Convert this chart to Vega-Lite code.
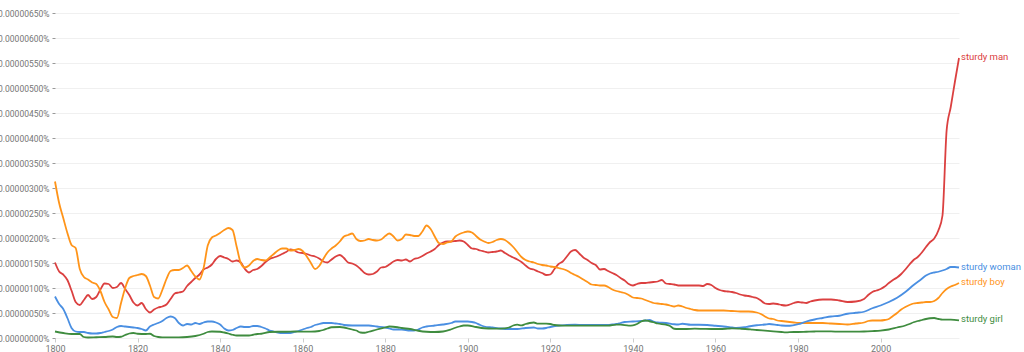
{
"$schema": "https://vega.github.io/schema/vega-lite/v6.json",
"width": 904, "height": 325,
"autosize": {"type": "none"},
"padding": {"left": 55, "top": 13, "right": 65, "bottom": 14},
"background": "white",
"config": {"view": {"stroke": null}, "font": "Roboto"},
"data": {"values": [
{"t":"sturdy man","year":1800,"v":151},{"t":"sturdy man","year":1801,"v":133},{"t":"sturdy man","year":1802,"v":127},{"t":"sturdy man","year":1803,"v":116},{"t":"sturdy man","year":1804,"v":95},{"t":"sturdy man","year":1805,"v":72},{"t":"sturdy man","year":1806,"v":66},{"t":"sturdy man","year":1807,"v":76},{"t":"sturdy man","year":1808,"v":86},{"t":"sturdy man","year":1809,"v":78},{"t":"sturdy man","year":1810,"v":82},{"t":"sturdy man","year":1811,"v":97},{"t":"sturdy man","year":1812,"v":109},{"t":"sturdy man","year":1813,"v":108},{"t":"sturdy man","year":1814,"v":100},{"t":"sturdy man","year":1815,"v":102},{"t":"sturdy man","year":1816,"v":110},{"t":"sturdy man","year":1817,"v":98},{"t":"sturdy man","year":1818,"v":86},{"t":"sturdy man","year":1819,"v":71},{"t":"sturdy man","year":1820,"v":65},{"t":"sturdy man","year":1821,"v":70},{"t":"sturdy man","year":1822,"v":58},{"t":"sturdy man","year":1823,"v":51},{"t":"sturdy man","year":1824,"v":57},{"t":"sturdy man","year":1825,"v":61},{"t":"sturdy man","year":1826,"v":63},{"t":"sturdy man","year":1827,"v":67},{"t":"sturdy man","year":1828,"v":78},{"t":"sturdy man","year":1829,"v":89},{"t":"sturdy man","year":1830,"v":91},{"t":"sturdy man","year":1831,"v":93},{"t":"sturdy man","year":1832,"v":104},{"t":"sturdy man","year":1833,"v":112},{"t":"sturdy man","year":1834,"v":120},{"t":"sturdy man","year":1835,"v":127},{"t":"sturdy man","year":1836,"v":137},{"t":"sturdy man","year":1837,"v":141},{"t":"sturdy man","year":1838,"v":147},{"t":"sturdy man","year":1839,"v":158},{"t":"sturdy man","year":1840,"v":164},{"t":"sturdy man","year":1841,"v":161},{"t":"sturdy man","year":1842,"v":158},{"t":"sturdy man","year":1843,"v":153},{"t":"sturdy man","year":1844,"v":155},{"t":"sturdy man","year":1845,"v":151},{"t":"sturdy man","year":1846,"v":138},{"t":"sturdy man","year":1847,"v":131},{"t":"sturdy man","year":1848,"v":136},{"t":"sturdy man","year":1849,"v":138},{"t":"sturdy man","year":1850,"v":144},{"t":"sturdy man","year":1851,"v":152},{"t":"sturdy man","year":1852,"v":158},{"t":"sturdy man","year":1853,"v":161},{"t":"sturdy man","year":1854,"v":164},{"t":"sturdy man","year":1855,"v":168},{"t":"sturdy man","year":1856,"v":172},{"t":"sturdy man","year":1857,"v":177},{"t":"sturdy man","year":1858,"v":175},{"t":"sturdy man","year":1859,"v":171},{"t":"sturdy man","year":1860,"v":170},{"t":"sturdy man","year":1861,"v":168},{"t":"sturdy man","year":1862,"v":165},{"t":"sturdy man","year":1863,"v":163},{"t":"sturdy man","year":1864,"v":159},{"t":"sturdy man","year":1865,"v":153},{"t":"sturdy man","year":1866,"v":151},{"t":"sturdy man","year":1867,"v":157},{"t":"sturdy man","year":1868,"v":163},{"t":"sturdy man","year":1869,"v":166},{"t":"sturdy man","year":1870,"v":160},{"t":"sturdy man","year":1871,"v":151},{"t":"sturdy man","year":1872,"v":149},{"t":"sturdy man","year":1873,"v":145},{"t":"sturdy man","year":1874,"v":138},{"t":"sturdy man","year":1875,"v":130},{"t":"sturdy man","year":1876,"v":127},{"t":"sturdy man","year":1877,"v":128},{"t":"sturdy man","year":1878,"v":133},{"t":"sturdy man","year":1879,"v":141},{"t":"sturdy man","year":1880,"v":142},{"t":"sturdy man","year":1881,"v":147},{"t":"sturdy man","year":1882,"v":153},{"t":"sturdy man","year":1883,"v":156},{"t":"sturdy man","year":1884,"v":155},{"t":"sturdy man","year":1885,"v":157},{"t":"sturdy man","year":1886,"v":153},{"t":"sturdy man","year":1887,"v":158},{"t":"sturdy man","year":1888,"v":160},{"t":"sturdy man","year":1889,"v":164},{"t":"sturdy man","year":1890,"v":169},{"t":"sturdy man","year":1891,"v":173},{"t":"sturdy man","year":1892,"v":178},{"t":"sturdy man","year":1893,"v":186},{"t":"sturdy man","year":1894,"v":191},{"t":"sturdy man","year":1895,"v":193},{"t":"sturdy man","year":1896,"v":193},{"t":"sturdy man","year":1897,"v":194},{"t":"sturdy man","year":1898,"v":195},{"t":"sturdy man","year":1899,"v":193},{"t":"sturdy man","year":1900,"v":186},{"t":"sturdy man","year":1901,"v":179},{"t":"sturdy man","year":1902,"v":178},{"t":"sturdy man","year":1903,"v":175},{"t":"sturdy man","year":1904,"v":173},{"t":"sturdy man","year":1905,"v":171},{"t":"sturdy man","year":1906,"v":172},{"t":"sturdy man","year":1907,"v":173},{"t":"sturdy man","year":1908,"v":175},{"t":"sturdy man","year":1909,"v":170},{"t":"sturdy man","year":1910,"v":165},{"t":"sturdy man","year":1911,"v":161},{"t":"sturdy man","year":1912,"v":157},{"t":"sturdy man","year":1913,"v":152},{"t":"sturdy man","year":1914,"v":145},{"t":"sturdy man","year":1915,"v":139},{"t":"sturdy man","year":1916,"v":137},{"t":"sturdy man","year":1917,"v":133},{"t":"sturdy man","year":1918,"v":130},{"t":"sturdy man","year":1919,"v":126},{"t":"sturdy man","year":1920,"v":127},{"t":"sturdy man","year":1921,"v":138},{"t":"sturdy man","year":1922,"v":148},{"t":"sturdy man","year":1923,"v":153},{"t":"sturdy man","year":1924,"v":163},{"t":"sturdy man","year":1925,"v":173},{"t":"sturdy man","year":1926,"v":176},{"t":"sturdy man","year":1927,"v":169},{"t":"sturdy man","year":1928,"v":161},{"t":"sturdy man","year":1929,"v":156},{"t":"sturdy man","year":1930,"v":150},{"t":"sturdy man","year":1931,"v":146},{"t":"sturdy man","year":1932,"v":137},{"t":"sturdy man","year":1933,"v":138},{"t":"sturdy man","year":1934,"v":134},{"t":"sturdy man","year":1935,"v":130},{"t":"sturdy man","year":1936,"v":126},{"t":"sturdy man","year":1937,"v":120},{"t":"sturdy man","year":1938,"v":115},{"t":"sturdy man","year":1939,"v":108},{"t":"sturdy man","year":1940,"v":105},{"t":"sturdy man","year":1941,"v":108},{"t":"sturdy man","year":1942,"v":110},{"t":"sturdy man","year":1943,"v":110},{"t":"sturdy man","year":1944,"v":111},{"t":"sturdy man","year":1945,"v":112},{"t":"sturdy man","year":1946,"v":113},{"t":"sturdy man","year":1947,"v":116},{"t":"sturdy man","year":1948,"v":109},{"t":"sturdy man","year":1949,"v":108},{"t":"sturdy man","year":1950,"v":107},{"t":"sturdy man","year":1951,"v":105},{"t":"sturdy man","year":1952,"v":105},{"t":"sturdy man","year":1953,"v":105},{"t":"sturdy man","year":1954,"v":105},{"t":"sturdy man","year":1955,"v":105},{"t":"sturdy man","year":1956,"v":105},{"t":"sturdy man","year":1957,"v":104},{"t":"sturdy man","year":1958,"v":108},{"t":"sturdy man","year":1959,"v":106},{"t":"sturdy man","year":1960,"v":100},{"t":"sturdy man","year":1961,"v":96},{"t":"sturdy man","year":1962,"v":94},{"t":"sturdy man","year":1963,"v":93},{"t":"sturdy man","year":1964,"v":92},{"t":"sturdy man","year":1965,"v":90},{"t":"sturdy man","year":1966,"v":87},{"t":"sturdy man","year":1967,"v":85},{"t":"sturdy man","year":1968,"v":84},{"t":"sturdy man","year":1969,"v":82},{"t":"sturdy man","year":1970,"v":80},{"t":"sturdy man","year":1971,"v":75},{"t":"sturdy man","year":1972,"v":69},{"t":"sturdy man","year":1973,"v":68},{"t":"sturdy man","year":1974,"v":69},{"t":"sturdy man","year":1975,"v":68},{"t":"sturdy man","year":1976,"v":66},{"t":"sturdy man","year":1977,"v":65},{"t":"sturdy man","year":1978,"v":67},{"t":"sturdy man","year":1979,"v":70},{"t":"sturdy man","year":1980,"v":72},{"t":"sturdy man","year":1981,"v":71},{"t":"sturdy man","year":1982,"v":70},{"t":"sturdy man","year":1983,"v":73},{"t":"sturdy man","year":1984,"v":75},{"t":"sturdy man","year":1986,"v":77},{"t":"sturdy man","year":1988,"v":77},{"t":"sturdy man","year":1990,"v":75},{"t":"sturdy man","year":1992,"v":72},{"t":"sturdy man","year":1994,"v":73},{"t":"sturdy man","year":1996,"v":78},{"t":"sturdy man","year":1997,"v":86},{"t":"sturdy man","year":1998,"v":92},{"t":"sturdy man","year":1999,"v":95},{"t":"sturdy man","year":2000,"v":98},{"t":"sturdy man","year":2001,"v":103},{"t":"sturdy man","year":2002,"v":110},{"t":"sturdy man","year":2003,"v":116},{"t":"sturdy man","year":2004,"v":121},{"t":"sturdy man","year":2005,"v":128},{"t":"sturdy man","year":2006,"v":137},{"t":"sturdy man","year":2007,"v":147},{"t":"sturdy man","year":2008,"v":156},{"t":"sturdy man","year":2009,"v":162},{"t":"sturdy man","year":2010,"v":171},{"t":"sturdy man","year":2011,"v":182},{"t":"sturdy man","year":2012,"v":192},{"t":"sturdy man","year":2013,"v":199},{"t":"sturdy man","year":2014,"v":215},{"t":"sturdy man","year":2015,"v":245},{"t":"sturdy man","year":2016,"v":415},{"t":"sturdy man","year":2017,"v":462},{"t":"sturdy man","year":2018,"v":512},{"t":"sturdy man","year":2019,"v":560},
{"t":"sturdy boy","year":1800,"v":313},{"t":"sturdy boy","year":1801,"v":270},{"t":"sturdy boy","year":1802,"v":240},{"t":"sturdy boy","year":1803,"v":210},{"t":"sturdy boy","year":1804,"v":186},{"t":"sturdy boy","year":1805,"v":180},{"t":"sturdy boy","year":1806,"v":138},{"t":"sturdy boy","year":1807,"v":122},{"t":"sturdy boy","year":1808,"v":117},{"t":"sturdy boy","year":1809,"v":111},{"t":"sturdy boy","year":1810,"v":108},{"t":"sturdy boy","year":1811,"v":94},{"t":"sturdy boy","year":1812,"v":72},{"t":"sturdy boy","year":1813,"v":57},{"t":"sturdy boy","year":1814,"v":42},{"t":"sturdy boy","year":1815,"v":40},{"t":"sturdy boy","year":1816,"v":70},{"t":"sturdy boy","year":1817,"v":100},{"t":"sturdy boy","year":1818,"v":120},{"t":"sturdy boy","year":1819,"v":124},{"t":"sturdy boy","year":1820,"v":126},{"t":"sturdy boy","year":1821,"v":128},{"t":"sturdy boy","year":1822,"v":124},{"t":"sturdy boy","year":1823,"v":105},{"t":"sturdy boy","year":1824,"v":82},{"t":"sturdy boy","year":1825,"v":79},{"t":"sturdy boy","year":1826,"v":96},{"t":"sturdy boy","year":1827,"v":118},{"t":"sturdy boy","year":1828,"v":134},{"t":"sturdy boy","year":1829,"v":136},{"t":"sturdy boy","year":1830,"v":136},{"t":"sturdy boy","year":1831,"v":140},{"t":"sturdy boy","year":1832,"v":145},{"t":"sturdy boy","year":1833,"v":134},{"t":"sturdy boy","year":1834,"v":123},{"t":"sturdy boy","year":1835,"v":117},{"t":"sturdy boy","year":1836,"v":140},{"t":"sturdy boy","year":1837,"v":185},{"t":"sturdy boy","year":1838,"v":201},{"t":"sturdy boy","year":1839,"v":205},{"t":"sturdy boy","year":1840,"v":210},{"t":"sturdy boy","year":1841,"v":216},{"t":"sturdy boy","year":1842,"v":220},{"t":"sturdy boy","year":1843,"v":216},{"t":"sturdy boy","year":1844,"v":183},{"t":"sturdy boy","year":1845,"v":150},{"t":"sturdy boy","year":1846,"v":141},{"t":"sturdy boy","year":1847,"v":145},{"t":"sturdy boy","year":1848,"v":154},{"t":"sturdy boy","year":1849,"v":158},{"t":"sturdy boy","year":1850,"v":156},{"t":"sturdy boy","year":1851,"v":155},{"t":"sturdy boy","year":1852,"v":161},{"t":"sturdy boy","year":1853,"v":168},{"t":"sturdy boy","year":1854,"v":175},{"t":"sturdy boy","year":1855,"v":179},{"t":"sturdy boy","year":1856,"v":179},{"t":"sturdy boy","year":1857,"v":175},{"t":"sturdy boy","year":1858,"v":176},{"t":"sturdy boy","year":1859,"v":178},{"t":"sturdy boy","year":1860,"v":174},{"t":"sturdy boy","year":1861,"v":163},{"t":"sturdy boy","year":1862,"v":150},{"t":"sturdy boy","year":1863,"v":138},{"t":"sturdy boy","year":1864,"v":144},{"t":"sturdy boy","year":1865,"v":158},{"t":"sturdy boy","year":1866,"v":171},{"t":"sturdy boy","year":1867,"v":179},{"t":"sturdy boy","year":1868,"v":185},{"t":"sturdy boy","year":1869,"v":193},{"t":"sturdy boy","year":1870,"v":203},{"t":"sturdy boy","year":1871,"v":206},{"t":"sturdy boy","year":1872,"v":209},{"t":"sturdy boy","year":1873,"v":198},{"t":"sturdy boy","year":1874,"v":194},{"t":"sturdy boy","year":1875,"v":195},{"t":"sturdy boy","year":1876,"v":198},{"t":"sturdy boy","year":1877,"v":196},{"t":"sturdy boy","year":1878,"v":195},{"t":"sturdy boy","year":1879,"v":197},{"t":"sturdy boy","year":1880,"v":204},{"t":"sturdy boy","year":1881,"v":209},{"t":"sturdy boy","year":1882,"v":203},{"t":"sturdy boy","year":1883,"v":195},{"t":"sturdy boy","year":1884,"v":198},{"t":"sturdy boy","year":1885,"v":207},{"t":"sturdy boy","year":1886,"v":206},{"t":"sturdy boy","year":1887,"v":204},{"t":"sturdy boy","year":1888,"v":204},{"t":"sturdy boy","year":1889,"v":213},{"t":"sturdy boy","year":1890,"v":225},{"t":"sturdy boy","year":1891,"v":218},{"t":"sturdy boy","year":1892,"v":203},{"t":"sturdy boy","year":1893,"v":190},{"t":"sturdy boy","year":1894,"v":188},{"t":"sturdy boy","year":1895,"v":191},{"t":"sturdy boy","year":1896,"v":193},{"t":"sturdy boy","year":1897,"v":203},{"t":"sturdy boy","year":1898,"v":208},{"t":"sturdy boy","year":1899,"v":211},{"t":"sturdy boy","year":1900,"v":213},{"t":"sturdy boy","year":1901,"v":211},{"t":"sturdy boy","year":1902,"v":204},{"t":"sturdy boy","year":1903,"v":197},{"t":"sturdy boy","year":1904,"v":193},{"t":"sturdy boy","year":1905,"v":190},{"t":"sturdy boy","year":1906,"v":192},{"t":"sturdy boy","year":1907,"v":196},{"t":"sturdy boy","year":1908,"v":198},{"t":"sturdy boy","year":1909,"v":196},{"t":"sturdy boy","year":1910,"v":190},{"t":"sturdy boy","year":1911,"v":182},{"t":"sturdy boy","year":1912,"v":172},{"t":"sturdy boy","year":1913,"v":162},{"t":"sturdy boy","year":1914,"v":156},{"t":"sturdy boy","year":1915,"v":153},{"t":"sturdy boy","year":1916,"v":151},{"t":"sturdy boy","year":1917,"v":148},{"t":"sturdy boy","year":1918,"v":146},{"t":"sturdy boy","year":1919,"v":145},{"t":"sturdy boy","year":1920,"v":143},{"t":"sturdy boy","year":1921,"v":142},{"t":"sturdy boy","year":1922,"v":140},{"t":"sturdy boy","year":1923,"v":138},{"t":"sturdy boy","year":1924,"v":135},{"t":"sturdy boy","year":1925,"v":130},{"t":"sturdy boy","year":1926,"v":126},{"t":"sturdy boy","year":1927,"v":122},{"t":"sturdy boy","year":1928,"v":117},{"t":"sturdy boy","year":1929,"v":112},{"t":"sturdy boy","year":1930,"v":107},{"t":"sturdy boy","year":1931,"v":106},{"t":"sturdy boy","year":1932,"v":105},{"t":"sturdy boy","year":1933,"v":105},{"t":"sturdy boy","year":1934,"v":102},{"t":"sturdy boy","year":1935,"v":97},{"t":"sturdy boy","year":1936,"v":94},{"t":"sturdy boy","year":1937,"v":92},{"t":"sturdy boy","year":1938,"v":90},{"t":"sturdy boy","year":1939,"v":86},{"t":"sturdy boy","year":1940,"v":81},{"t":"sturdy boy","year":1941,"v":80},{"t":"sturdy boy","year":1942,"v":79},{"t":"sturdy boy","year":1943,"v":76},{"t":"sturdy boy","year":1944,"v":73},{"t":"sturdy boy","year":1945,"v":70},{"t":"sturdy boy","year":1946,"v":69},{"t":"sturdy boy","year":1947,"v":68},{"t":"sturdy boy","year":1948,"v":67},{"t":"sturdy boy","year":1949,"v":65},{"t":"sturdy boy","year":1950,"v":63},{"t":"sturdy boy","year":1951,"v":65},{"t":"sturdy boy","year":1952,"v":63},{"t":"sturdy boy","year":1953,"v":60},{"t":"sturdy boy","year":1954,"v":58},{"t":"sturdy boy","year":1955,"v":56},{"t":"sturdy boy","year":1956,"v":55},{"t":"sturdy boy","year":1958,"v":55},{"t":"sturdy boy","year":1960,"v":55},{"t":"sturdy boy","year":1962,"v":55},{"t":"sturdy boy","year":1964,"v":54},{"t":"sturdy boy","year":1966,"v":53},{"t":"sturdy boy","year":1968,"v":53},{"t":"sturdy boy","year":1970,"v":51},{"t":"sturdy boy","year":1971,"v":48},{"t":"sturdy boy","year":1972,"v":43},{"t":"sturdy boy","year":1973,"v":39},{"t":"sturdy boy","year":1974,"v":38},{"t":"sturdy boy","year":1975,"v":35},{"t":"sturdy boy","year":1976,"v":34},{"t":"sturdy boy","year":1977,"v":33},{"t":"sturdy boy","year":1978,"v":32},{"t":"sturdy boy","year":1979,"v":31},{"t":"sturdy boy","year":1980,"v":30},{"t":"sturdy boy","year":1982,"v":30},{"t":"sturdy boy","year":1984,"v":30},{"t":"sturdy boy","year":1986,"v":30},{"t":"sturdy boy","year":1988,"v":29},{"t":"sturdy boy","year":1990,"v":28},{"t":"sturdy boy","year":1992,"v":27},{"t":"sturdy boy","year":1994,"v":29},{"t":"sturdy boy","year":1996,"v":31},{"t":"sturdy boy","year":1997,"v":34},{"t":"sturdy boy","year":1998,"v":35},{"t":"sturdy boy","year":2000,"v":35},{"t":"sturdy boy","year":2001,"v":36},{"t":"sturdy boy","year":2002,"v":38},{"t":"sturdy boy","year":2003,"v":44},{"t":"sturdy boy","year":2004,"v":50},{"t":"sturdy boy","year":2005,"v":57},{"t":"sturdy boy","year":2006,"v":62},{"t":"sturdy boy","year":2007,"v":66},{"t":"sturdy boy","year":2008,"v":69},{"t":"sturdy boy","year":2009,"v":70},{"t":"sturdy boy","year":2010,"v":71},{"t":"sturdy boy","year":2011,"v":72},{"t":"sturdy boy","year":2012,"v":72},{"t":"sturdy boy","year":2013,"v":74},{"t":"sturdy boy","year":2014,"v":80},{"t":"sturdy boy","year":2015,"v":90},{"t":"sturdy boy","year":2016,"v":98},{"t":"sturdy boy","year":2017,"v":103},{"t":"sturdy boy","year":2018,"v":106},{"t":"sturdy boy","year":2019,"v":110},
{"t":"sturdy woman","year":1800,"v":83},{"t":"sturdy woman","year":1801,"v":68},{"t":"sturdy woman","year":1802,"v":58},{"t":"sturdy woman","year":1803,"v":40},{"t":"sturdy woman","year":1804,"v":20},{"t":"sturdy woman","year":1805,"v":13},{"t":"sturdy woman","year":1806,"v":12},{"t":"sturdy woman","year":1807,"v":12},{"t":"sturdy woman","year":1808,"v":10},{"t":"sturdy woman","year":1809,"v":9},{"t":"sturdy woman","year":1810,"v":9},{"t":"sturdy woman","year":1811,"v":10},{"t":"sturdy woman","year":1812,"v":12},{"t":"sturdy woman","year":1813,"v":14},{"t":"sturdy woman","year":1814,"v":17},{"t":"sturdy woman","year":1815,"v":22},{"t":"sturdy woman","year":1816,"v":24},{"t":"sturdy woman","year":1817,"v":23},{"t":"sturdy woman","year":1818,"v":22},{"t":"sturdy woman","year":1819,"v":21},{"t":"sturdy woman","year":1820,"v":20},{"t":"sturdy woman","year":1821,"v":18},{"t":"sturdy woman","year":1822,"v":15},{"t":"sturdy woman","year":1823,"v":23},{"t":"sturdy woman","year":1824,"v":27},{"t":"sturdy woman","year":1825,"v":30},{"t":"sturdy woman","year":1826,"v":34},{"t":"sturdy woman","year":1827,"v":40},{"t":"sturdy woman","year":1828,"v":43},{"t":"sturdy woman","year":1829,"v":40},{"t":"sturdy woman","year":1830,"v":30},{"t":"sturdy woman","year":1831,"v":25},{"t":"sturdy woman","year":1832,"v":28},{"t":"sturdy woman","year":1833,"v":27},{"t":"sturdy woman","year":1834,"v":30},{"t":"sturdy woman","year":1835,"v":28},{"t":"sturdy woman","year":1836,"v":31},{"t":"sturdy woman","year":1837,"v":33},{"t":"sturdy woman","year":1838,"v":33},{"t":"sturdy woman","year":1839,"v":31},{"t":"sturdy woman","year":1840,"v":27},{"t":"sturdy woman","year":1841,"v":19},{"t":"sturdy woman","year":1842,"v":15},{"t":"sturdy woman","year":1843,"v":16},{"t":"sturdy woman","year":1844,"v":20},{"t":"sturdy woman","year":1845,"v":23},{"t":"sturdy woman","year":1846,"v":22},{"t":"sturdy woman","year":1847,"v":22},{"t":"sturdy woman","year":1848,"v":24},{"t":"sturdy woman","year":1849,"v":24},{"t":"sturdy woman","year":1850,"v":22},{"t":"sturdy woman","year":1851,"v":19},{"t":"sturdy woman","year":1852,"v":15},{"t":"sturdy woman","year":1853,"v":13},{"t":"sturdy woman","year":1854,"v":11},{"t":"sturdy woman","year":1855,"v":10},{"t":"sturdy woman","year":1857,"v":10},{"t":"sturdy woman","year":1858,"v":12},{"t":"sturdy woman","year":1859,"v":14},{"t":"sturdy woman","year":1860,"v":17},{"t":"sturdy woman","year":1861,"v":20},{"t":"sturdy woman","year":1862,"v":22},{"t":"sturdy woman","year":1863,"v":26},{"t":"sturdy woman","year":1864,"v":28},{"t":"sturdy woman","year":1865,"v":30},{"t":"sturdy woman","year":1867,"v":30},{"t":"sturdy woman","year":1868,"v":29},{"t":"sturdy woman","year":1869,"v":28},{"t":"sturdy woman","year":1870,"v":26},{"t":"sturdy woman","year":1872,"v":25},{"t":"sturdy woman","year":1874,"v":25},{"t":"sturdy woman","year":1876,"v":25},{"t":"sturdy woman","year":1878,"v":23},{"t":"sturdy woman","year":1880,"v":21},{"t":"sturdy woman","year":1881,"v":19},{"t":"sturdy woman","year":1882,"v":17},{"t":"sturdy woman","year":1884,"v":17},{"t":"sturdy woman","year":1886,"v":15},{"t":"sturdy woman","year":1887,"v":15},{"t":"sturdy woman","year":1888,"v":17},{"t":"sturdy woman","year":1889,"v":21},{"t":"sturdy woman","year":1890,"v":23},{"t":"sturdy woman","year":1892,"v":25},{"t":"sturdy woman","year":1894,"v":27},{"t":"sturdy woman","year":1896,"v":30},{"t":"sturdy woman","year":1897,"v":33},{"t":"sturdy woman","year":1898,"v":33},{"t":"sturdy woman","year":1900,"v":33},{"t":"sturdy woman","year":1901,"v":32},{"t":"sturdy woman","year":1902,"v":30},{"t":"sturdy woman","year":1903,"v":26},{"t":"sturdy woman","year":1904,"v":23},{"t":"sturdy woman","year":1906,"v":21},{"t":"sturdy woman","year":1908,"v":19},{"t":"sturdy woman","year":1910,"v":18},{"t":"sturdy woman","year":1912,"v":18},{"t":"sturdy woman","year":1914,"v":20},{"t":"sturdy woman","year":1916,"v":21},{"t":"sturdy woman","year":1917,"v":19},{"t":"sturdy woman","year":1918,"v":19},{"t":"sturdy woman","year":1919,"v":20},{"t":"sturdy woman","year":1920,"v":22},{"t":"sturdy woman","year":1922,"v":25},{"t":"sturdy woman","year":1924,"v":26},{"t":"sturdy woman","year":1926,"v":26.5},{"t":"sturdy woman","year":1928,"v":26},{"t":"sturdy woman","year":1930,"v":26},{"t":"sturdy woman","year":1932,"v":26},{"t":"sturdy woman","year":1934,"v":26},{"t":"sturdy woman","year":1935,"v":27},{"t":"sturdy woman","year":1936,"v":28},{"t":"sturdy woman","year":1937,"v":30},{"t":"sturdy woman","year":1938,"v":32},{"t":"sturdy woman","year":1940,"v":33},{"t":"sturdy woman","year":1942,"v":34},{"t":"sturdy woman","year":1943,"v":35},{"t":"sturdy woman","year":1944,"v":36},{"t":"sturdy woman","year":1945,"v":33},{"t":"sturdy woman","year":1946,"v":31},{"t":"sturdy woman","year":1948,"v":30},{"t":"sturdy woman","year":1950,"v":27.5},{"t":"sturdy woman","year":1951,"v":27},{"t":"sturdy woman","year":1952,"v":28.5},{"t":"sturdy woman","year":1954,"v":26.5},{"t":"sturdy woman","year":1956,"v":26.5},{"t":"sturdy woman","year":1958,"v":26},{"t":"sturdy woman","year":1960,"v":24.5},{"t":"sturdy woman","year":1962,"v":23},{"t":"sturdy woman","year":1964,"v":21},{"t":"sturdy woman","year":1965,"v":20},{"t":"sturdy woman","year":1967,"v":21.5},{"t":"sturdy woman","year":1968,"v":23},{"t":"sturdy woman","year":1970,"v":25.5},{"t":"sturdy woman","year":1972,"v":27},{"t":"sturdy woman","year":1973,"v":28},{"t":"sturdy woman","year":1975,"v":26},{"t":"sturdy woman","year":1976,"v":25},{"t":"sturdy woman","year":1978,"v":24.5},{"t":"sturdy woman","year":1980,"v":27.5},{"t":"sturdy woman","year":1982,"v":33},{"t":"sturdy woman","year":1984,"v":37},{"t":"sturdy woman","year":1986,"v":40},{"t":"sturdy woman","year":1988,"v":43},{"t":"sturdy woman","year":1990,"v":44.5},{"t":"sturdy woman","year":1992,"v":48.5},{"t":"sturdy woman","year":1994,"v":50.5},{"t":"sturdy woman","year":1996,"v":52.5},{"t":"sturdy woman","year":1998,"v":59.5},{"t":"sturdy woman","year":2000,"v":65},{"t":"sturdy woman","year":2002,"v":72},{"t":"sturdy woman","year":2004,"v":80.5},{"t":"sturdy woman","year":2006,"v":92},{"t":"sturdy woman","year":2008,"v":106},{"t":"sturdy woman","year":2010,"v":118.5},{"t":"sturdy woman","year":2011,"v":125},{"t":"sturdy woman","year":2012,"v":129},{"t":"sturdy woman","year":2013,"v":131},{"t":"sturdy woman","year":2014,"v":132.5},{"t":"sturdy woman","year":2015,"v":135},{"t":"sturdy woman","year":2016,"v":138},{"t":"sturdy woman","year":2017,"v":142},{"t":"sturdy woman","year":2018,"v":142},{"t":"sturdy woman","year":2019,"v":141},
{"t":"sturdy girl","year":1800,"v":13},{"t":"sturdy girl","year":1802,"v":10},{"t":"sturdy girl","year":1804,"v":8},{"t":"sturdy girl","year":1806,"v":8},{"t":"sturdy girl","year":1807,"v":2},{"t":"sturdy girl","year":1808,"v":1},{"t":"sturdy girl","year":1810,"v":1.5},{"t":"sturdy girl","year":1812,"v":2},{"t":"sturdy girl","year":1814,"v":3},{"t":"sturdy girl","year":1815,"v":2},{"t":"sturdy girl","year":1816,"v":2.5},{"t":"sturdy girl","year":1817,"v":6},{"t":"sturdy girl","year":1818,"v":9},{"t":"sturdy girl","year":1819,"v":10},{"t":"sturdy girl","year":1820,"v":8.5},{"t":"sturdy girl","year":1822,"v":8},{"t":"sturdy girl","year":1823,"v":8.5},{"t":"sturdy girl","year":1824,"v":4},{"t":"sturdy girl","year":1825,"v":2},{"t":"sturdy girl","year":1826,"v":1.3},{"t":"sturdy girl","year":1828,"v":1.3},{"t":"sturdy girl","year":1830,"v":1.3},{"t":"sturdy girl","year":1832,"v":2},{"t":"sturdy girl","year":1834,"v":4},{"t":"sturdy girl","year":1836,"v":8.5},{"t":"sturdy girl","year":1837,"v":12},{"t":"sturdy girl","year":1838,"v":13},{"t":"sturdy girl","year":1840,"v":12.5},{"t":"sturdy girl","year":1841,"v":11},{"t":"sturdy girl","year":1842,"v":9},{"t":"sturdy girl","year":1843,"v":6.5},{"t":"sturdy girl","year":1844,"v":5},{"t":"sturdy girl","year":1847,"v":5},{"t":"sturdy girl","year":1848,"v":6.5},{"t":"sturdy girl","year":1849,"v":8},{"t":"sturdy girl","year":1850,"v":8.5},{"t":"sturdy girl","year":1852,"v":12},{"t":"sturdy girl","year":1854,"v":12.5},{"t":"sturdy girl","year":1856,"v":12.5},{"t":"sturdy girl","year":1858,"v":13},{"t":"sturdy girl","year":1860,"v":12.8},{"t":"sturdy girl","year":1862,"v":12.6},{"t":"sturdy girl","year":1864,"v":14},{"t":"sturdy girl","year":1865,"v":16},{"t":"sturdy girl","year":1866,"v":19},{"t":"sturdy girl","year":1867,"v":21.5},{"t":"sturdy girl","year":1869,"v":22},{"t":"sturdy girl","year":1870,"v":21},{"t":"sturdy girl","year":1871,"v":19},{"t":"sturdy girl","year":1872,"v":17},{"t":"sturdy girl","year":1873,"v":15},{"t":"sturdy girl","year":1874,"v":11},{"t":"sturdy girl","year":1875,"v":10.5},{"t":"sturdy girl","year":1876,"v":12.5},{"t":"sturdy girl","year":1878,"v":17},{"t":"sturdy girl","year":1880,"v":21},{"t":"sturdy girl","year":1881,"v":23},{"t":"sturdy girl","year":1883,"v":21.5},{"t":"sturdy girl","year":1884,"v":20},{"t":"sturdy girl","year":1886,"v":18},{"t":"sturdy girl","year":1888,"v":14.5},{"t":"sturdy girl","year":1890,"v":12.5},{"t":"sturdy girl","year":1892,"v":12},{"t":"sturdy girl","year":1894,"v":13},{"t":"sturdy girl","year":1896,"v":17.5},{"t":"sturdy girl","year":1897,"v":20.5},{"t":"sturdy girl","year":1898,"v":23},{"t":"sturdy girl","year":1899,"v":25},{"t":"sturdy girl","year":1900,"v":25},{"t":"sturdy girl","year":1902,"v":22},{"t":"sturdy girl","year":1904,"v":19.5},{"t":"sturdy girl","year":1906,"v":18.6},{"t":"sturdy girl","year":1908,"v":18.6},{"t":"sturdy girl","year":1910,"v":21},{"t":"sturdy girl","year":1911,"v":25},{"t":"sturdy girl","year":1912,"v":26.6},{"t":"sturdy girl","year":1913,"v":25.3},{"t":"sturdy girl","year":1914,"v":28},{"t":"sturdy girl","year":1915,"v":30},{"t":"sturdy girl","year":1916,"v":31},{"t":"sturdy girl","year":1917,"v":28.6},{"t":"sturdy girl","year":1919,"v":28.6},{"t":"sturdy girl","year":1920,"v":28},{"t":"sturdy girl","year":1921,"v":26},{"t":"sturdy girl","year":1922,"v":25},{"t":"sturdy girl","year":1924,"v":24.6},{"t":"sturdy girl","year":1928,"v":24.6},{"t":"sturdy girl","year":1932,"v":24.6},{"t":"sturdy girl","year":1934,"v":24.6},{"t":"sturdy girl","year":1936,"v":26.6},{"t":"sturdy girl","year":1937,"v":26.6},{"t":"sturdy girl","year":1939,"v":24.8},{"t":"sturdy girl","year":1940,"v":25.3},{"t":"sturdy girl","year":1941,"v":28},{"t":"sturdy girl","year":1942,"v":33},{"t":"sturdy girl","year":1943,"v":35},{"t":"sturdy girl","year":1944,"v":33.5},{"t":"sturdy girl","year":1945,"v":31.5},{"t":"sturdy girl","year":1946,"v":29},{"t":"sturdy girl","year":1948,"v":26.6},{"t":"sturdy girl","year":1949,"v":24},{"t":"sturdy girl","year":1950,"v":18.5},{"t":"sturdy girl","year":1951,"v":18},{"t":"sturdy girl","year":1953,"v":18},{"t":"sturdy girl","year":1955,"v":18.6},{"t":"sturdy girl","year":1957,"v":18.3},{"t":"sturdy girl","year":1959,"v":18},{"t":"sturdy girl","year":1961,"v":18},{"t":"sturdy girl","year":1963,"v":18.8},{"t":"sturdy girl","year":1964,"v":19.3},{"t":"sturdy girl","year":1966,"v":18.6},{"t":"sturdy girl","year":1968,"v":17.5},{"t":"sturdy girl","year":1969,"v":16.6},{"t":"sturdy girl","year":1970,"v":16},{"t":"sturdy girl","year":1972,"v":14.6},{"t":"sturdy girl","year":1974,"v":13.2},{"t":"sturdy girl","year":1976,"v":12},{"t":"sturdy girl","year":1977,"v":11.3},{"t":"sturdy girl","year":1979,"v":12},{"t":"sturdy girl","year":1980,"v":12},{"t":"sturdy girl","year":1982,"v":12.5},{"t":"sturdy girl","year":1984,"v":13},{"t":"sturdy girl","year":1986,"v":13.3},{"t":"sturdy girl","year":1988,"v":13.3},{"t":"sturdy girl","year":1990,"v":12.6},{"t":"sturdy girl","year":1994,"v":12.6},{"t":"sturdy girl","year":1996,"v":13},{"t":"sturdy girl","year":1998,"v":13.8},{"t":"sturdy girl","year":2000,"v":14.8},{"t":"sturdy girl","year":2002,"v":17},{"t":"sturdy girl","year":2004,"v":21},{"t":"sturdy girl","year":2006,"v":25},{"t":"sturdy girl","year":2007,"v":28},{"t":"sturdy girl","year":2008,"v":31.5},{"t":"sturdy girl","year":2009,"v":34},{"t":"sturdy girl","year":2010,"v":36},{"t":"sturdy girl","year":2011,"v":38},{"t":"sturdy girl","year":2012,"v":39.5},{"t":"sturdy girl","year":2013,"v":40},{"t":"sturdy girl","year":2014,"v":38},{"t":"sturdy girl","year":2015,"v":36.6},{"t":"sturdy girl","year":2017,"v":36.6},{"t":"sturdy girl","year":2019,"v":35.3}
]},
"encoding": {
"x": {"field": "year", "type": "quantitative", "scale": {"domain": [1800, 2019], "nice": false, "zero": false},
 "axis": {"values": [1800,1820,1840,1860,1880,1900,1920,1940,1960,1980,2000], "format": "d", "title": null, "grid": false, "domain": false, "tickSize": 4, "tickColor": "#cccccc", "labelColor": "#757575", "labelFontSize": 9, "labelPadding": 2, "labelFlush": false}},
"y": {"field": "v", "type": "quantitative", "scale": {"domain": [0, 650], "nice": false},
 "axis": {"values": [0,50,100,150,200,250,300,350,400,450,500,550,600,650], "title": null, "labelExpr": "format(datum.value/1e8,'.8f')+'%'", "grid": true, "gridColor": "#f0f0f0", "domain": false, "tickSize": 3, "tickColor": "#999999", "labelPadding": 3, "labelColor": "#757575", "labelFontSize": 8.5}},
"color": {"field": "t", "type": "nominal", "scale": {"domain": ["sturdy man", "sturdy woman", "sturdy boy", "sturdy girl"], "range": ["#db4040", "#4a8fe2", "#ff9419", "#3f8c3f"]}, "legend": null}
},
"layer": [
{"mark": {"type": "line", "interpolate": "monotone", "strokeWidth": 1.8}},
{"transform": [{"filter": "datum.year == 2019"}], "mark": {"type": "text", "align": "left", "baseline": "middle", "dx": 2, "dy": -1, "fontSize": 9.5}, "encoding": {"text": {"field": "t"}}}
]
}
